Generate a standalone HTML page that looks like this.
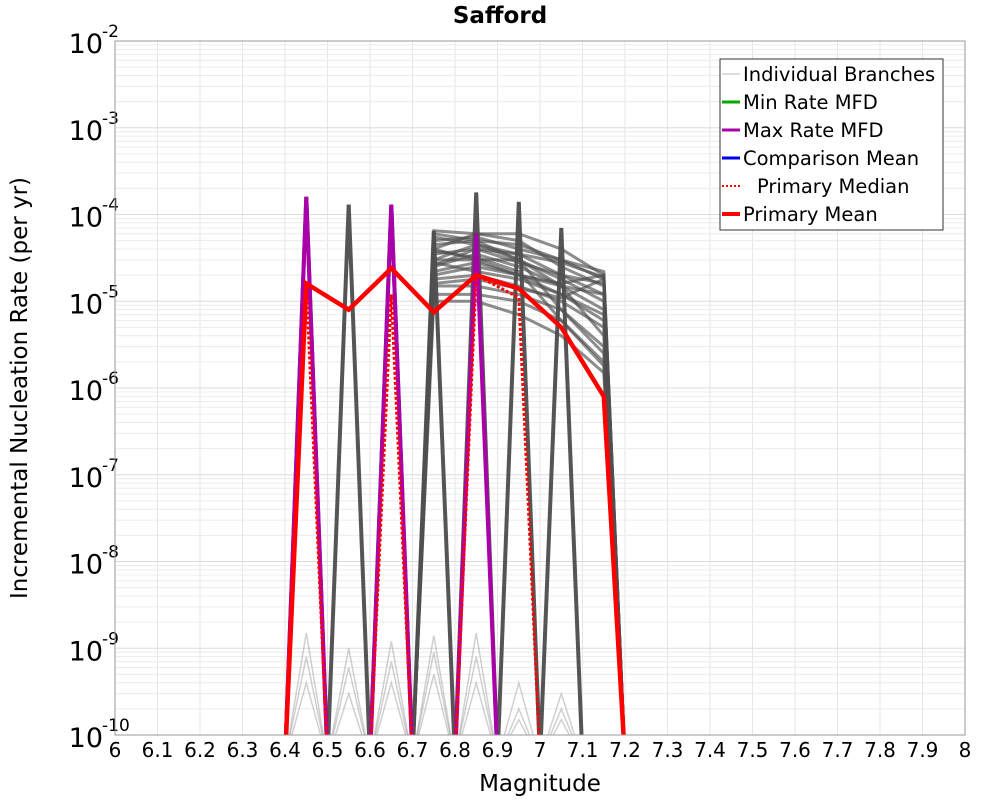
<!DOCTYPE html>
<html><head><meta charset="utf-8"><style>
body{margin:0;background:#fff;font-family:"Liberation Sans","DejaVu Sans",sans-serif}
svg text{font-family:"DejaVu Sans","Liberation Sans",sans-serif}
</style></head><body>
<svg id="c" width="1000" height="800" xmlns="http://www.w3.org/2000/svg">
<text x="500" y="23" text-anchor="middle" font-size="23" font-weight="bold">Safford</text>
<text x="540" y="791" text-anchor="middle" font-size="23">Magnitude</text>
<text transform="translate(27,388) rotate(-90)" text-anchor="middle" font-size="23">Incremental Nucleation Rate (per yr)</text>
<defs><clipPath id="pc"><rect x="115" y="41" width="850" height="694"/></clipPath></defs>
<g id="grid"></g><g id="marks" clip-path="url(#pc)"></g><g id="axes"></g><g id="legend"></g>
</svg>
<script>
const mags=[6.4,6.45,6.5,6.55,6.6,6.65,6.7,6.75,6.8,6.85,6.9,6.95,7.0,7.05,7.1,7.15,7.2];
const spikeBranches=[
[0,1.6e-4,0,null,null,null,null,null,null,null,null,null,null,null,null,null,null],
[null,null,0,1.3e-4,0,null,null,null,null,null,null,null,null,null,null,null,null],
[null,null,null,null,0,1.3e-4,0,null,null,null,null,null,null,null,null,null,null],
[null,null,null,null,null,null,null,null,0,1.8e-4,0,null,null,null,null,null,null],
[null,null,null,null,null,null,null,null,null,null,0,1.4e-4,0,null,null,null,null],
[null,null,null,null,null,null,null,null,null,null,null,null,0,7e-5,0,null,null],
[null,null,null,null,null,null,0,6.5e-5,0,null,null,null,null,null,null,null,null]
];
const lowBranches=[
[0,1.5e-9,0,1e-9,0,1.2e-9,0,1.4e-9,0,1.5e-9,0,4e-10,0,3e-10,0,null,null],
[0,8e-10,0,6e-10,0,7e-10,0,9e-10,0,8e-10,0,2e-10,0,2e-10,0,null,null],
[0,4e-10,0,3e-10,0,4e-10,0,5e-10,0,4e-10,0,1.5e-10,0,1.5e-10,0,null,null]
];
const clusterBranches=[
[6.5e-5,6e-5,6e-5,4e-5,2e-5],[5e-5,5.5e-5,4e-5,3e-5,1.8e-5],[4e-5,6e-5,5e-5,2.5e-5,1.5e-5],
[3.5e-5,4e-5,3.5e-5,2e-5,1.2e-5],[3e-5,3e-5,3e-5,1.8e-5,1e-5],[2.5e-5,3.5e-5,2.5e-5,1.5e-5,8e-6],
[2e-5,2.5e-5,2e-5,1.2e-5,6e-6],[1.8e-5,2e-5,1.5e-5,1e-5,5e-6],[1.5e-5,1.5e-5,1.2e-5,8e-6,3e-6],
[1.2e-5,1.2e-5,1e-5,6e-6,2e-6],[1e-5,1e-5,7e-6,4e-6,1.5e-6],[4e-5,3e-5,2e-5,1.6e-5,2e-5],
[3e-5,4.5e-5,3.5e-5,2.8e-5,1.9e-5],[2.2e-5,2.8e-5,2e-5,1.5e-5,1.2e-5],[5.5e-5,4.5e-5,3e-5,1.5e-5,4e-6],
[1.6e-5,1.8e-5,1.4e-5,1.1e-5,1.8e-5],[6e-5,5e-5,4.5e-5,3e-5,2.2e-5],[2.8e-5,2.2e-5,1.8e-5,1.2e-5,7e-6],
[4.5e-5,5e-5,3e-5,8e-6,2.5e-6],[3.8e-5,3.2e-5,2.2e-5,6e-6,1.8e-6],[2.6e-5,4e-5,2.8e-5,2e-5,1.6e-5]
];
const clusterMags=[6.7,6.75,6.85,6.95,7.05,7.15,7.2];
const meanMags=[6.4,6.45,6.55,6.65,6.75,6.85,6.95,7.05,7.15,7.2];
const meanVals=[0,1.6e-5,8e-6,2.4e-5,7.5e-6,2e-5,1.4e-5,5e-6,8e-7,0];
const medianMags=[6.4,6.45,6.5,6.6,6.65,6.7,6.8,6.85,6.95,7.0];
const medianVals=[0,1.6e-5,0,0,1.2e-5,0,0,2e-5,1.1e-5,0];
const maxMags=[6.4,6.45,6.5,6.6,6.65,6.7,6.8,6.85,6.9];
const maxVals=[0,1.6e-4,0,0,1.3e-4,0,0,6e-5,0];
const xTicks=[6,6.1,6.2,6.3,6.4,6.5,6.6,6.7,6.8,6.9,7,7.1,7.2,7.3,7.4,7.5,7.6,7.7,7.8,7.9,8];
const yExps=[-10,-9,-8,-7,-6,-5,-4,-3,-2];
const legendLabels=["Individual Branches","Min Rate MFD","Max Rate MFD","Comparison Mean","Primary Median","Primary Mean"];
const NS="http://www.w3.org/2000/svg";
const X=m=>115+(m-6)*425;
const Y=v=>{if(!v||v<=0)return 760;return 735-(Math.log10(v)+10)*86.75;};
function mk(p,t,a){const e=document.createElementNS(NS,t);for(const k in a)e.setAttribute(k,a[k]);p.appendChild(e);return e;}
const grid=document.getElementById('grid'),marks=document.getElementById('marks'),axes=document.getElementById('axes'),leg=document.getElementById('legend');
for(const t of xTicks){const l=mk(grid,'line',{x1:X(t),x2:X(t),y1:41,y2:735,stroke:'#e6e6e6'});


const tx=mk(axes,'text',{x:X(t),y:757,'text-anchor':'middle','font-size':20});tx.textContent=String(t);

}
for(const e of yExps){for(let k=1;k<=9;k++){if(e===-2&&k>1)break;const v=k*Math.pow(10,e);
const l=mk(grid,'line',{x1:115,x2:965,y1:Y(v),y2:Y(v),stroke:k===1?'#dcdcdc':'#ececec'});

}
const tx=mk(axes,'text',{x:103,y:Y(Math.pow(10,e))+12,'text-anchor':'end','font-size':27});tx.textContent='10';


const sp=mk(axes,'text',{x:102,y:Y(Math.pow(10,e))-4,'font-size':17});sp.textContent=String(e);

}
const fr=mk(axes,'rect',{x:115,y:41,width:850,height:694,fill:'none',stroke:'#999'});


function path(xs,ys,attrs,name){let d='',pen=false;for(let i=0;i<xs.length;i++){if(ys[i]===null){continue;}d+=(pen?'L':'M')+X(xs[i]).toFixed(1)+','+Y(ys[i]).toFixed(1);pen=true;}
const p=mk(marks,'path',Object.assign({d:d,fill:'none','stroke-linejoin':'miter'},attrs));

return p;}
for(const b of lowBranches){path(mags,b,{stroke:'rgba(120,120,120,0.35)','stroke-width':1.5},'branch-line');}
for(const b of spikeBranches){path(mags,b,{stroke:'#555','stroke-width':4},'branch-line');}
for(const b of clusterBranches){path(clusterMags,[0].concat(b,[0]),{stroke:'rgba(80,80,80,0.65)','stroke-width':3},'branch-line');}
path(maxMags,maxVals,{stroke:'#aa00aa','stroke-width':4},'max-rate-line');
path(medianMags,medianVals,{stroke:'#ff0000','stroke-width':3,'stroke-dasharray':'3,2'},'primary-median-line');
path(meanMags,meanVals,{stroke:'#ff0000','stroke-width':4.5},'primary-mean-line');
const lb=mk(leg,'rect',{x:720,y:59,width:223,height:171,fill:'#fff',stroke:'#333'});


const lc=[['#bbb',1,''],['#00aa00',3,''],['#aa00aa',3,''],['#0000ee',3,''],['#ff0000',2,'2,2'],['#ff0000',4,'']];
legendLabels.forEach((s,i)=>{const y=74+i*28;const c=lc[i];
const l=mk(leg,'line',{x1:722,x2:740,y1:y,y2:y,stroke:c[0],'stroke-width':c[1],'stroke-dasharray':c[2]});


const t=mk(leg,'text',{x:i===4?757:743,y:y+7,'font-size':19.5});t.textContent=s;

});
</script>
</body></html>
